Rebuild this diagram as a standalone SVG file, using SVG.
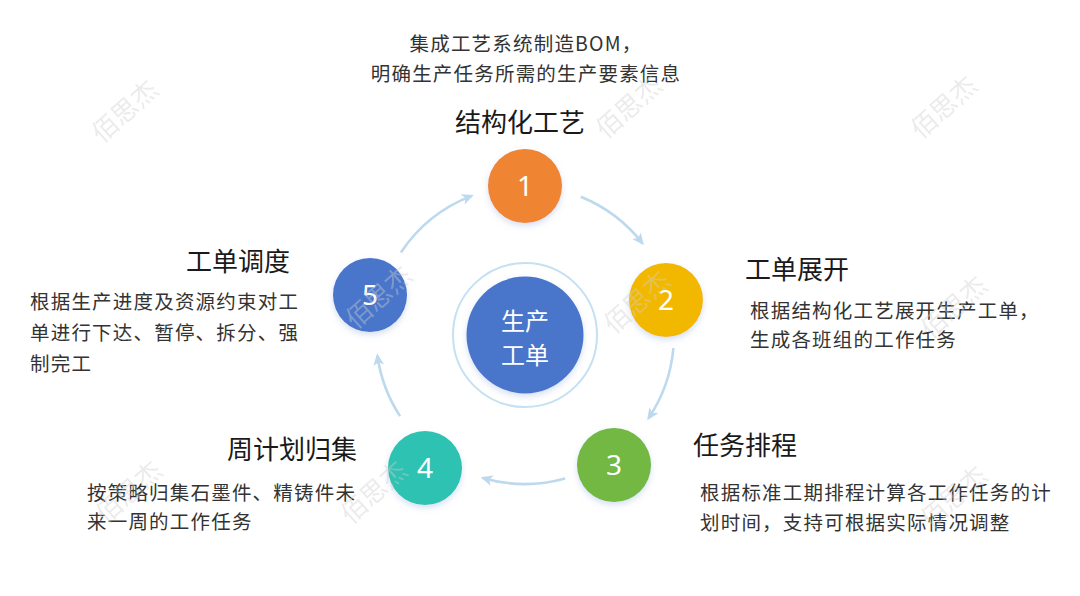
<svg xmlns="http://www.w3.org/2000/svg" width="1080" height="596" viewBox="0 0 1080 596">
<style>
.t{font-family:"Noto Sans CJK SC","Noto Sans",sans-serif;}
.title{font-size:26px;fill:#1a1a1a;}
.body{font-size:19.5px;fill:#333333;letter-spacing:1.2px;}
.num{font-family:"Noto Sans","Open Sans",sans-serif;font-size:28px;fill:#ffffff;text-anchor:middle;}
.wm{font-family:"Noto Sans CJK SC",sans-serif;font-size:26px;fill:#cfcfcf;opacity:0.4;text-anchor:middle;}
.arc{fill:none;stroke:#BDD9EE;stroke-width:2.6;marker-end:url(#ah);}
</style>
<defs>
<marker id="ah" viewBox="0 0 10 10" refX="8" refY="5" markerWidth="12" markerHeight="12" markerUnits="userSpaceOnUse" orient="auto">
<path d="M0,0.5 L10,5 L0,9.5 L2.5,5 Z" fill="#BDD9EE"/>
</marker>
<filter id="sh" x="-30%" y="-30%" width="160%" height="170%">
<feDropShadow dx="0" dy="3" stdDeviation="3" flood-color="#8aa6d8" flood-opacity="0.35"/>
</filter>
</defs>
<rect width="1080" height="596" fill="#ffffff"/>

<g id="connectors">
<path class="arc" d="M580.8,196.8 A149,149 0 0 1 642.4,243.3"/>
<path class="arc" d="M673.4,348 A149,149 0 0 1 648.5,418.3"/>
<path class="arc" d="M565.1,478.5 A149,149 0 0 1 482.9,477.9"/>
<path class="arc" d="M400,416.1 A149,149 0 0 1 377.4,355.7"/>
<path class="arc" d="M400.9,252.5 A149,149 0 0 1 471.6,195.9"/>
</g>

<g id="center">
<circle cx="525" cy="335" r="72" fill="none" stroke="#C5E0F2" stroke-width="2"/>
<circle cx="525" cy="335" r="58.5" fill="#4A74CB" filter="url(#sh)"/>
<text class="t" x="525" y="330" font-size="24" fill="#ffffff" text-anchor="middle">生产</text>
<text class="t" x="525" y="364" font-size="24" fill="#ffffff" text-anchor="middle">工单</text>
</g>

<g id="top-note">
<text class="t body" x="526" y="51" text-anchor="middle">集成工艺系统制造BOM，</text>
<text class="t body" x="526" y="81" text-anchor="middle">明确生产任务所需的生产要素信息</text>
</g>

<g id="node1">
<text class="t title" x="520" y="132" text-anchor="middle" font-size="27">结构化工艺</text>
<circle cx="525" cy="186" r="37" fill="#EF8531" filter="url(#sh)"/>
<text class="num" x="525" y="196">1</text>
</g>

<g id="node2">
<circle cx="666" cy="300" r="37" fill="#F2B800" filter="url(#sh)"/>
<text class="num" x="666" y="310">2</text>
<text class="t title" x="745" y="279">工单展开</text>
<text class="t body" x="750" y="318">根据结构化工艺展开生产工单，</text>
<text class="t body" x="750" y="347">生成各班组的工作任务</text>
</g>

<g id="node3">
<circle cx="614" cy="465" r="37" fill="#72B843" filter="url(#sh)"/>
<text class="num" x="614" y="475">3</text>
<text class="t title" x="693" y="455">任务排程</text>
<text class="t body" x="700" y="500">根据标准工期排程计算各工作任务的计</text>
<text class="t body" x="700" y="530">划时间，支持可根据实际情况调整</text>
</g>

<g id="node4">
<circle cx="425" cy="468" r="37" fill="#2FC2B3" filter="url(#sh)"/>
<text class="num" x="425" y="478">4</text>
<text class="t title" x="227" y="459">周计划归集</text>
<text class="t body" x="87" y="500">按策略归集石墨件、精铸件未</text>
<text class="t body" x="87" y="529">来一周的工作任务</text>
</g>

<g id="node5">
<circle cx="370" cy="295" r="37" fill="#4A74CB" filter="url(#sh)"/>
<text class="num" x="370" y="305">5</text>
<text class="t title" x="186" y="271">工单调度</text>
<text class="t body" x="30" y="309">根据生产进度及资源约束对工</text>
<text class="t body" x="30" y="340">单进行下达、暂停、拆分、强</text>
<text class="t body" x="30" y="371">制完工</text>
</g>

<g id="watermarks">
<text class="wm" transform="translate(131,118) rotate(-42)">佰思杰</text>
<text class="wm" transform="translate(635,114) rotate(-42)">佰思杰</text>
<text class="wm" transform="translate(950,114) rotate(-42)">佰思杰</text>
<text class="wm" transform="translate(385,304) rotate(-42)">佰思杰</text>
<text class="wm" transform="translate(643,309) rotate(-42)">佰思杰</text>
<text class="wm" transform="translate(960,314) rotate(-42)">佰思杰</text>
<text class="wm" transform="translate(135,499) rotate(-42)">佰思杰</text>
<text class="wm" transform="translate(380,499) rotate(-42)">佰思杰</text>
<text class="wm" transform="translate(960,504) rotate(-42)">佰思杰</text>
</g>
</svg>
